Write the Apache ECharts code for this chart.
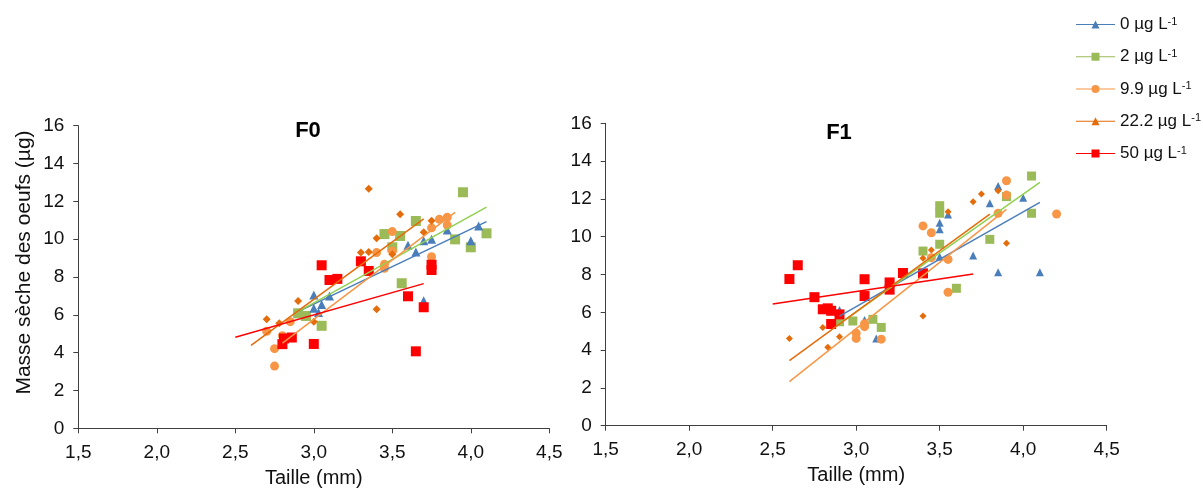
<!DOCTYPE html>
<html><head><meta charset="utf-8">
<script src="https://cdn.jsdelivr.net/npm/echarts@6/dist/echarts.min.js"></script>
<style>html,body{margin:0;padding:0;background:#fff}#c{width:1203px;height:488px}</style>
</head><body><div id="c"></div>
<script>
// ---- data ----
const seriesNames = ['0 µg L-1', '2 µg L-1', '9.9 µg L-1', '22.2 µg L-1', '50 µg L-1'];
const panelTitles = ['F0', 'F1'];
const xName = 'Taille (mm)';
const yName = 'Masse sèche des oeufs (µg)';

// F0 points [taille, masse]
const f0_c0 = [[3.0,7.05],[3.1,7.0],[3.0,6.35],[3.05,6.55],[3.03,6.12],[3.6,9.68],[3.65,9.32],[3.7,9.92],[3.75,10.0],[3.85,10.49],[4.0,9.92],[4.05,10.7],[3.7,6.75]];
const f0_c2 = [[2.9,6.08],[2.95,5.94],[3.05,5.42],[3.45,10.27],[3.55,10.17],[3.5,9.57],[3.65,10.96],[3.95,12.48],[3.9,9.99],[4.0,9.57],[4.1,10.31],[3.56,7.67]];
const f0_c9 = [[2.7,5.13],[2.75,4.21],[2.75,3.29],[2.8,4.9],[2.85,5.64],[3.4,9.29],[3.45,8.67],[3.45,8.46],[3.5,10.4],[3.5,9.38],[3.75,10.6],[3.75,9.07],[3.8,11.05],[3.85,11.16],[3.85,10.75]];
const f0_c22 = [[2.7,5.76],[2.78,5.55],[2.9,6.73],[3.0,5.63],[3.3,9.29],[3.35,9.32],[3.4,10.05],[3.35,12.66],[3.55,11.32],[3.4,6.29],[3.5,9.2],[3.7,10.37],[3.75,10.98]];
const f0_c50 = [[3.05,8.62],[3.1,7.84],[3.15,7.9],[3.3,8.83],[3.35,8.32],[2.8,4.45],[2.81,4.75],[2.86,4.8],[3.0,4.46],[3.6,6.98],[3.7,6.4],[3.75,8.65],[3.75,8.37],[3.65,4.07]];
// F0 trend lines [start, end]
const f0_t0 = [[2.9,6.17],[4.1,10.93]];
const f0_t2 = [[2.9,6.17],[4.1,11.69]];
const f0_t9 = [[2.8,4.5],[3.9,11.42]];
const f0_t22 = [[2.6,4.39],[3.7,11.07]];
const f0_t50 = [[2.5,4.81],[3.7,7.65]];

// F1 points
const f1_c0 = [[2.9,6.12],[3.05,5.59],[3.12,4.62],[3.5,10.74],[3.5,10.4],[3.55,11.18],[3.5,8.94],[3.7,9.0],[3.8,11.77],[3.85,12.68],[3.85,8.12],[4.0,12.06],[4.1,8.12]];
const f1_c2 = [[2.9,5.5],[2.98,5.54],[3.1,5.63],[3.15,5.2],[3.4,9.24],[3.5,9.6],[3.5,11.64],[3.5,11.24],[3.6,7.27],[3.8,9.86],[3.9,12.12],[4.05,13.21],[4.05,11.24]];
const f1_c9 = [[3.0,4.89],[3.0,4.62],[3.05,5.24],[3.05,5.4],[3.15,4.58],[3.4,10.57],[3.45,10.21],[3.45,8.89],[3.55,8.8],[3.55,7.06],[3.85,11.24],[3.9,12.96],[3.9,12.2],[4.2,11.2]];
const f1_c22 = [[2.6,4.62],[2.8,5.2],[2.83,4.15],[2.9,4.71],[3.4,5.8],[3.4,8.86],[3.45,9.3],[3.55,11.32],[3.7,11.85],[3.75,12.26],[3.85,12.43],[3.9,9.65]];
const f1_c50 = [[2.6,7.76],[2.65,8.49],[2.75,6.8],[2.8,6.16],[2.83,6.21],[2.85,6.08],[2.9,5.89],[2.85,5.38],[3.05,7.75],[3.05,6.86],[3.2,7.58],[3.2,7.2],[3.28,8.08],[3.4,8.06]];
// F1 trend lines
const f1_t0 = [[2.9,5.8],[4.1,11.82]];
const f1_t2 = [[2.9,5.4],[4.1,12.88]];
const f1_t9 = [[2.6,2.33],[3.9,11.45]];
const f1_t22 = [[2.6,3.44],[3.8,11.19]];
const f1_t50 = [[2.5,6.44],[3.7,8.03]];

// ---- styling ----
const FONT = 'Liberation Sans, Arial, sans-serif';
const markerColors = ['#4a7ebb', '#9bbb59', '#f79646', '#e46c0a', '#ff0000'];
const lineColors = ['#4a7ebb', '#92d050', '#f79646', '#e46c0a', '#ff0000'];
const symbols = ['triangle', 'rect', 'circle', 'diamond', 'rect'];
const sizes = [[9,10,9,8,10],[8,9,9,7,10]];
const drawOrder = [1, 0, 2, 3, 4];

const lineBar = 'M0 3.4 H39 V4.6 H0 Z ';
const legendIcons = [
  'path://' + lineBar + 'M19.5 0 L23.5 8 L15.5 8 Z',
  'path://' + lineBar + 'M15.5 0 H23.5 V8 H15.5 Z',
  'path://' + lineBar + 'M15.5 4 A4 4 0 1 1 23.5 4 A4 4 0 1 1 15.5 4 Z',
  'path://' + lineBar + 'M19.5 0 L23.5 8 L15.5 8 Z',
  'path://' + lineBar + 'M15.5 0 H23.5 V8 H15.5 Z'
];

const panels = [
  {pts:[f0_c0,f0_c2,f0_c9,f0_c22,f0_c50], trends:[f0_t0,f0_t2,f0_t9,f0_t22,f0_t50]},
  {pts:[f1_c0,f1_c2,f1_c9,f1_c22,f1_c50], trends:[f1_t0,f1_t2,f1_t9,f1_t22,f1_t50]}
];

const axisColor = '#404040';
const commaFmt = v => v.toFixed(1).replace('.', ',');

function xAxisFor(i) {
  return {
    type:'value', gridIndex:i, min:1.5, max:4.5, interval:0.5,
    axisLine:{show:true, onZero:false, lineStyle:{color:axisColor, width:1}},
    axisTick:{show:true, length:5, lineStyle:{color:axisColor}},
    splitLine:{show:false},
    axisLabel:{fontSize:19, fontFamily:FONT, color:'#111', margin:15, formatter:commaFmt},
    name:xName, nameLocation:'middle', nameGap:40,
    nameTextStyle:{fontSize:20, fontFamily:FONT, color:'#111'}
  };
}
function yAxisFor(i) {
  const a = {
    type:'value', gridIndex:i, min:0, max:16, interval:2,
    axisLine:{show:true, lineStyle:{color:axisColor, width:1}},
    axisTick:{show:true, length:5, lineStyle:{color:axisColor}},
    splitLine:{show:false},
    axisLabel:{fontSize:19, fontFamily:FONT, color:'#111', margin:14}
  };
  if (i === 0) {
    a.name = yName; a.nameLocation = 'middle'; a.nameGap = 44; a.nameRotate = 90;
    a.nameTextStyle = {fontSize:21, fontFamily:FONT, color:'#111', padding:[0,0,0,29]};
  }
  return a;
}

const series = [];
panels.forEach((p, pi) => {
  drawOrder.forEach(k => {
    series.push({
      type:'scatter', name:seriesNames[k], xAxisIndex:pi, yAxisIndex:pi,
      data:p.pts[k], symbol:symbols[k], symbolSize:sizes[pi][k],
      itemStyle:{color:markerColors[k], opacity:1}, z:2, animation:false
    });
  });
  for (let k = 0; k < 5; k++) {
    series.push({
      type:'line', name:'trend-' + pi + '-' + k, xAxisIndex:pi, yAxisIndex:pi,
      data:p.trends[k], symbol:'none', silent:true,
      lineStyle:{color:lineColors[k], width:1.5}, z:3, animation:false
    });
  }
});

const option = {
  backgroundColor:'#fff',
  animation:false,
  textStyle:{fontFamily:FONT},
  title: [
    {text:panelTitles[0], left:303, top:115, textAlign:'center', textStyle:{fontSize:22, fontWeight:'bold', color:'#000', fontFamily:FONT}},
    {text:panelTitles[1], left:834, top:117, textAlign:'center', textStyle:{fontSize:22, fontWeight:'bold', color:'#000', fontFamily:FONT}}
  ],
  grid: [
    {left:78.3, top:125.7, width:471, height:302.6, outerBoundsMode:'none', containLabel:false},
    {left:605.7, top:123.3, width:501, height:302.4, outerBoundsMode:'none', containLabel:false}
  ],
  xAxis:[xAxisFor(0), xAxisFor(1)],
  yAxis:[yAxisFor(0), yAxisFor(1)],
  legend: {
    orient:'vertical', left:1071, top:11, itemWidth:39, itemHeight:8, itemGap:15.25,
    selectedMode:false,
    data: seriesNames.map((n, i) => ({name:n, icon:legendIcons[i], itemStyle:{color:markerColors[i]}})),
    formatter: n => '{n|' + n.slice(0, -2) + '}{s|-1}',
    textStyle:{fontFamily:FONT, color:'#111', rich:{
      n:{fontSize:17, lineHeight:17, fontFamily:FONT, color:'#111'},
      s:{fontSize:11, lineHeight:11, verticalAlign:'top', fontFamily:FONT, color:'#111'}
    }}
  },
  series: series
};
const chart = echarts.init(document.getElementById('c'), null, {renderer:'canvas'});
chart.setOption(option);
</script>
</body></html>
